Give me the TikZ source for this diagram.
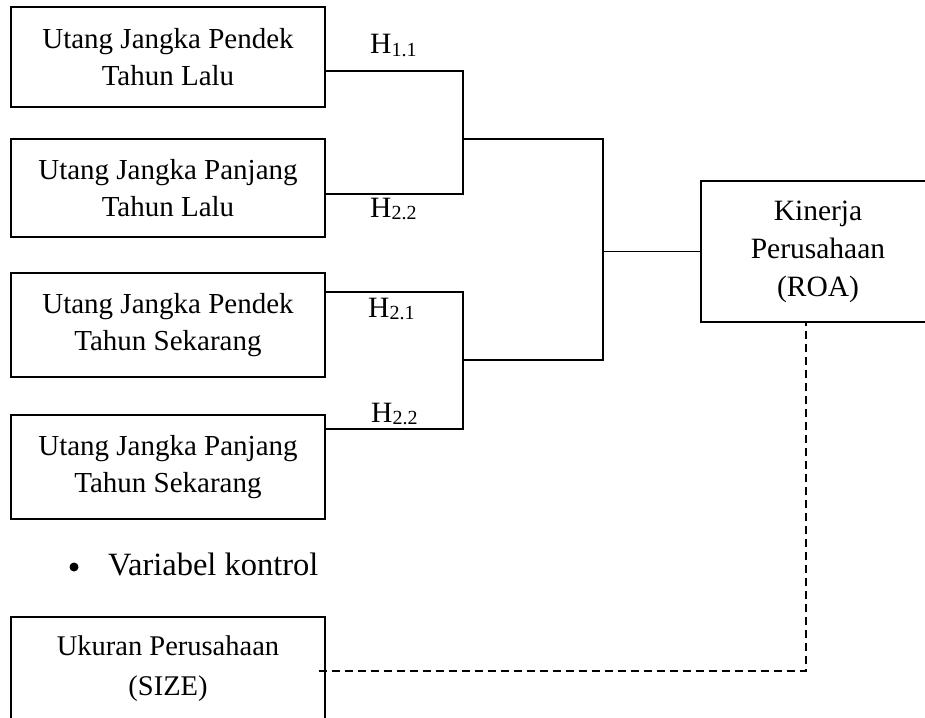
\documentclass[tikz,border=0pt]{standalone}
\usepackage{fontspec}
\setmainfont{Liberation Serif}
\usetikzlibrary{calc}
\begin{document}
\begin{tikzpicture}[x=1pt,y=-1pt,
  box/.style={draw,line width=1.4pt,inner sep=0pt,align=center,
              minimum width=314pt,font=\fontsize{29}{37}\selectfont},
  conn/.style={line width=1.4pt},
  dashconn/.style={line width=1.4pt,dash pattern=on 8pt off 5pt},
  hlab/.style={anchor=base west,inner sep=0pt,font=\fontsize{29.5}{29.5}\selectfont},
  plain/.style={inner sep=0pt}]
\path[use as bounding box] (0,0) rectangle (925,717);
\clip (0,0) rectangle (925,717);

\newcommand{\Hsub}[1]{H\raisebox{-2.5pt}{\fontsize{20}{20}\selectfont #1}}

% boxes
\node[box,minimum height=100pt] (b1) at (168,57) {Utang Jangka Pendek\\Tahun Lalu};
\node[box,minimum height=98pt]  (b2) at (168,188) {Utang Jangka Panjang\\Tahun Lalu};
\node[box,minimum height=104pt] (b3) at (168,325) {Utang Jangka Pendek\\Tahun Sekarang};
\node[box,minimum height=104pt] (b4) at (168,467) {Utang Jangka Panjang\\Tahun Sekarang};
\node[box,minimum height=103pt,font=\fontsize{28.5}{40}\selectfont] (size) at (168,668.5) {Ukuran Perusahaan\\(SIZE)};
\node[box,minimum width=234pt,minimum height=141pt,font=\fontsize{29.5}{38}\selectfont] (kin) at (818,251.5) {Kinerja\\Perusahaan\\(ROA)};

% bullet text
\node[circle,fill=black,inner sep=0pt,minimum size=9pt] (bul) at (74,567) {};
\node[plain,anchor=base west,font=\fontsize{32.5}{32.5}\selectfont] (vk) at (108,575) {Variabel kontrol};

% junction coordinates
\coordinate (m1) at (463,139);
\coordinate (m2) at (463,360);
\coordinate (m3) at (603,139);
\coordinate (m4) at (603,360);
\coordinate (d)  at (806,671);

% connectors
\draw[conn] ([yshift=-14pt]b1.east) -| (m1) |- ([yshift=-6pt]b2.east);
\draw[conn] ([yshift=33pt]b3.east) -| (m2) |- ([yshift=38pt]b4.east);
\draw[conn] (m1) -- (m3) -- (m4) -- (m2);
\draw[conn] (kin.west -| m3) -- (kin.west);
\draw[dashconn] ([xshift=-7pt]size.east |- d) -- (d) -- (d |- kin.south);

% labels
\node[hlab] (h11) at (370,54)  {\Hsub{1.1}};
\node[hlab] (h22a) at (370,217) {\Hsub{2.2}};
\node[hlab] (h21) at (368,317) {\Hsub{2.1}};
\node[hlab] (h22b) at (371,422) {\Hsub{2.2}};
\end{tikzpicture}
\end{document}
